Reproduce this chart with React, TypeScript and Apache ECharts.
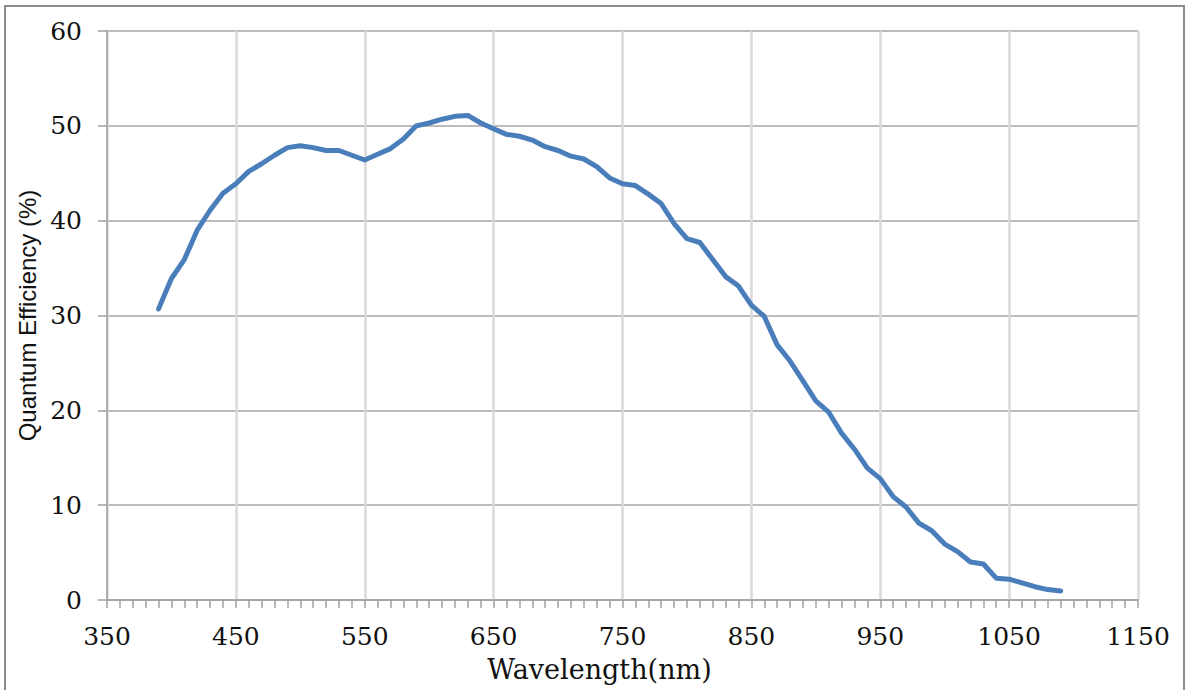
import React, { useEffect, useRef } from "react";
import * as echarts from "echarts";

const wavelengths = [
  390, 400, 410, 420, 430, 440, 450, 460, 470, 480, 490, 500, 510, 520, 530, 540, 550, 560, 570, 580,
  590, 600, 610, 620, 630, 640, 650, 660, 670, 680, 690, 700, 710, 720, 730, 740, 750, 760, 770, 780,
  790, 800, 810, 820, 830, 840, 850, 860, 870, 880, 890, 900, 910, 920, 930, 940, 950, 960, 970, 980,
  990, 1000, 1010, 1020, 1030, 1040, 1050, 1060, 1070, 1080, 1090,
];
const qe = [
  30.7, 33.9, 35.9, 39.0, 41.1, 42.9, 43.9, 45.2, 46.0, 46.9, 47.7, 47.9, 47.7, 47.4, 47.4, 46.9, 46.4, 47.0, 47.6, 48.6,
  50.0, 50.3, 50.7, 51.0, 51.1, 50.3, 49.7, 49.1, 48.9, 48.5, 47.8, 47.4, 46.8, 46.5, 45.7, 44.5, 43.9, 43.7, 42.8, 41.8,
  39.7, 38.1, 37.7, 35.9, 34.1, 33.1, 31.1, 29.9, 26.9, 25.2, 23.1, 21.0, 19.8, 17.6, 15.9, 13.9, 12.8, 10.9, 9.8, 8.1,
  7.3, 5.9, 5.1, 4.0, 3.8, 2.3, 2.2, 1.8, 1.4, 1.1, 0.95,
];
const xTicks = { min: 350, max: 1150, step: 100 };
const yTicks = { min: 0, max: 60, step: 10 };

export default function App() {
  const ref = useRef<HTMLDivElement>(null);
  useEffect(() => {
    document.body.style.margin = "0";
    const chart = echarts.init(ref.current!, null, { renderer: "svg" });
    const serif = "DejaVu Serif";
    chart.setOption({
      animation: false,
      backgroundColor: "#ffffff",
      graphic: [
        {
          type: "rect",
          shape: { x: 5, y: 6, width: 1179, height: 700 },
          style: { fill: "none", stroke: "#8c8c8c", lineWidth: 2 },
          silent: true,
        },
      ],
      grid: { left: 107, top: 31, width: 1031, height: 569, containLabel: false },
      xAxis: {
        type: "value",
        min: xTicks.min,
        max: xTicks.max,
        interval: xTicks.step,
        name: "Wavelength(nm)",
        nameLocation: "middle",
        nameGap: 56,
        nameTextStyle: { fontFamily: serif, fontSize: 27, color: "#111", padding: [0, 46, 0, 0] },
        axisLine: { show: true, lineStyle: { color: "#a0a0a0", width: 1.5 } },
        axisTick: { show: true, inside: false, length: 8, lineStyle: { color: "#a0a0a0", width: 1.5 } },
        minorTick: { show: true, splitNumber: 10, length: 8, lineStyle: { color: "#a0a0a0", width: 1.5 } },
        axisLabel: { fontFamily: serif, fontSize: 25, color: "#111", margin: 24, formatter: (v: number) => String(v) },
        splitLine: { show: true, lineStyle: { color: "#d9d9d9", width: 2.5 } },
      },
      yAxis: {
        type: "value",
        min: yTicks.min,
        max: yTicks.max,
        interval: yTicks.step,
        name: "Quantum Efficiency (%)",
        nameLocation: "middle",
        nameGap: 58,
        nameTextStyle: { fontFamily: "Liberation Sans", fontSize: 24, color: "#111" },
        axisLine: { show: true, lineStyle: { color: "#a0a0a0", width: 1.5 } },
        axisTick: { show: true, inside: false, length: 9, lineStyle: { color: "#a0a0a0", width: 1.5 } },
        axisLabel: { fontFamily: serif, fontSize: 25, color: "#111", margin: 25, formatter: (v: number) => String(v) },
        splitLine: { show: true, lineStyle: { color: "#a6a6a6", width: 1.5 } },
      },
      series: [
        {
          type: "line",
          data: wavelengths.map((w, i) => [w, qe[i]]),
          showSymbol: false,
          symbol: "none",
          lineStyle: { color: "#4a7ebb", width: 5, cap: "round", join: "round" },
        },
      ],
    });
    return () => chart.dispose();
  }, []);
  return <div ref={ref} style={{ position: "absolute", left: 0, top: 0, width: 1186, height: 690 }} />;
}
